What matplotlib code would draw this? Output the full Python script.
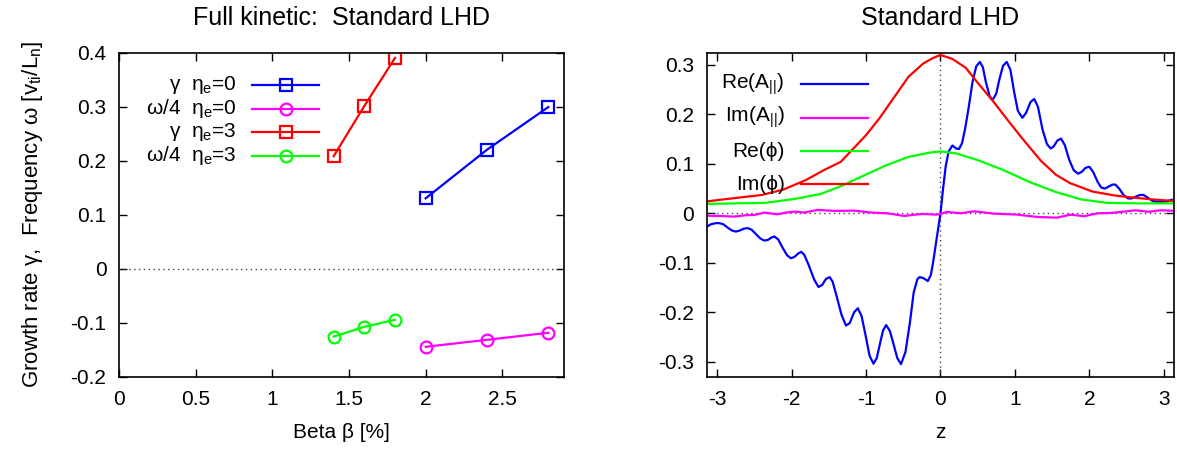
import matplotlib
matplotlib.use("Agg")
import matplotlib.pyplot as plt

plt.rcParams['font.family'] = ['Liberation Sans', 'DejaVu Sans']
plt.rcParams['font.size'] = 15
plt.rcParams['mathtext.fontset'] = 'custom'
plt.rcParams['mathtext.rm'] = 'Liberation Sans'
plt.rcParams['mathtext.it'] = 'Liberation Sans:italic'

# left panel: growth rate / frequency vs beta
beta_e0 = [2.0, 2.4, 2.8]
gamma_e0 = [0.13, 0.22, 0.299]
omega_e0 = [-0.145, -0.132, -0.119]
beta_e3 = [1.4, 1.6, 1.8]
gamma_e3 = [0.208, 0.301, 0.39]
omega_e3 = [-0.126, -0.108, -0.095]

# right panel: mode structure along z
z_re_a = [-3.14, -3.08, -3.02, -2.97, -2.92, -2.86, -2.80, -2.75, -2.70, -2.64,
          -2.59, -2.54, -2.48, -2.42, -2.37, -2.32, -2.27, -2.23, -2.18, -2.12,
          -2.06, -2.01, -1.96, -1.91, -1.87, -1.83, -1.77, -1.70, -1.64, -1.59,
          -1.54, -1.49, -1.45, -1.40, -1.33, -1.27, -1.22, -1.16, -1.11, -1.06,
          -1.005, -0.953, -0.90, -0.857, -0.815, -0.772, -0.73, -0.68, -0.63, -0.58,
          -0.53, -0.47, -0.41, -0.36, -0.31, -0.28, -0.23, -0.17, -0.13, -0.10,
          -0.07, -0.035, 0.0, 0.035, 0.07, 0.11, 0.16, 0.21, 0.25, 0.29,
          0.33, 0.38, 0.43, 0.48, 0.53, 0.57, 0.61, 0.66, 0.70, 0.75,
          0.79, 0.84, 0.89, 0.94, 0.99, 1.04, 1.10, 1.15, 1.21, 1.26,
          1.31, 1.37, 1.43, 1.48, 1.52, 1.57, 1.62, 1.67, 1.73, 1.79,
          1.85, 1.90, 1.95, 2.00, 2.05, 2.11, 2.16, 2.21, 2.26, 2.31,
          2.35, 2.40, 2.46, 2.52, 2.57, 2.63, 2.68, 2.73, 2.79, 2.85,
          2.92, 2.98, 3.04, 3.10, 3.14]
re_a = [-0.027, -0.022, -0.020, -0.020, -0.022, -0.029, -0.035, -0.037, -0.035, -0.031,
        -0.030, -0.033, -0.042, -0.051, -0.055, -0.054, -0.049, -0.047, -0.053, -0.070,
        -0.085, -0.091, -0.088, -0.081, -0.078, -0.084, -0.105, -0.133, -0.149, -0.145,
        -0.133, -0.129, -0.138, -0.165, -0.205, -0.227, -0.222, -0.200, -0.192, -0.208,
        -0.248, -0.288, -0.304, -0.293, -0.265, -0.237, -0.226, -0.238, -0.265, -0.293,
        -0.305, -0.280, -0.220, -0.160, -0.133, -0.129, -0.131, -0.137, -0.125, -0.100,
        -0.070, -0.035, 0.0, 0.050, 0.095, 0.125, 0.137, 0.131, 0.130, 0.142,
        0.170, 0.215, 0.265, 0.297, 0.306, 0.295, 0.265, 0.237, 0.229, 0.242,
        0.270, 0.298, 0.306, 0.290, 0.245, 0.207, 0.193, 0.203, 0.225, 0.231,
        0.215, 0.170, 0.140, 0.131, 0.135, 0.147, 0.151, 0.138, 0.108, 0.087,
        0.080, 0.084, 0.092, 0.094, 0.084, 0.064, 0.052, 0.050, 0.054, 0.058,
        0.058, 0.050, 0.037, 0.030, 0.030, 0.034, 0.037, 0.037, 0.031, 0.025,
        0.023, 0.023, 0.024, 0.027, 0.028]

z_im_a = [-3.14, -2.95, -2.77, -2.62, -2.50, -2.37, -2.19, -2.05, -1.96, -1.83,
          -1.65, -1.43, -1.16, -0.93, -0.71, -0.49, -0.26, -0.04, 0.09, 0.27,
          0.45, 0.72, 1.03, 1.30, 1.57, 1.75, 1.93, 2.11, 2.29, 2.47,
          2.62, 2.80, 2.95, 3.14]
im_a = [-0.005, -0.0055, -0.0068, -0.004, -0.0034, 0.0014, -0.002, 0.002, 0.0034, 0.0014,
        0.0068, 0.0048, 0.0054, 0.0014, 0.0, -0.0054, -0.0014, -0.0027, 0.0027, 0.0,
        0.004, -0.0007, -0.0027, -0.0075, -0.0088, -0.0027, -0.006, 0.0, 0.0007, 0.0034,
        0.006, 0.003, 0.006, 0.005]

z_re_phi = [-3.14, -2.75, -2.36, -1.96, -1.61, -1.32, -1.02, -0.73, -0.43, -0.13,
            0.0, 0.21, 0.51, 0.85, 1.20, 1.55, 1.89, 2.24, 2.63, 3.14]
re_phi = [0.019, 0.020, 0.021, 0.029, 0.039, 0.056, 0.077, 0.097, 0.114, 0.123,
          0.125, 0.121, 0.107, 0.087, 0.063, 0.043, 0.028, 0.021, 0.020, 0.020]

z_im_phi = [-3.14, -2.75, -2.40, -2.11, -1.81, -1.57, -1.34, -1.17, -1.00, -0.82,
            -0.63, -0.43, -0.23, -0.10, 0.0, 0.16, 0.34, 0.51, 0.71, 0.90, 1.10,
            1.35, 1.55, 1.74, 2.04, 2.34, 2.63, 2.93, 3.14]
im_phi = [0.024, 0.031, 0.037, 0.048, 0.067, 0.087, 0.104, 0.131, 0.158, 0.192,
          0.233, 0.276, 0.303, 0.314, 0.320, 0.312, 0.294, 0.262, 0.226, 0.189, 0.151,
          0.106, 0.078, 0.061, 0.044, 0.036, 0.031, 0.027, 0.025]

BLUE, MAGENTA, RED, GREEN = '#0000ff', '#ff00ff', '#ff0000', '#00ff00'


def key(ax, y, label, color, marker, x0, x1, xt):
    # gnuplot-style key: right-aligned label, sample line to its right
    ax.plot([x0, x1], [y, y], color=color, lw=1.6, transform=ax.transAxes, clip_on=False)
    if marker:
        ax.plot([(x0 + x1) / 2], [y], marker=marker, ms=8.5, mfc='none', mec=color,
                mew=1.6, transform=ax.transAxes, clip_on=False)
    ax.text(xt, y, label, ha='right', va='center', transform=ax.transAxes)


def style(ax):
    ax.tick_params(direction='in', top=True, right=True, length=6, width=1)
    ax.tick_params(axis='x', pad=10)
    ax.tick_params(axis='y', pad=9)
    for s in ax.spines.values():
        s.set_linewidth(1.2)


fig = plt.figure(figsize=(11.77, 4.5), dpi=100)
ax1 = fig.add_axes([0.1011, 0.1633, 0.3778, 0.72])
ax2 = fig.add_axes([0.6004, 0.1633, 0.3973, 0.72])

# left panel
ax1.axhline(0, color='#444444', lw=1, ls=(0, (1, 2.5)))
ax1.plot(beta_e0, gamma_e0, color=BLUE, lw=1.6, marker='s', ms=8.5, mfc='none', mew=1.6)
ax1.plot(beta_e0, omega_e0, color=MAGENTA, lw=1.6, marker='o', ms=8.5, mfc='none', mew=1.6)
ax1.plot(beta_e3, gamma_e3, color=RED, lw=1.6, marker='s', ms=8.5, mfc='none', mew=1.6)
ax1.plot(beta_e3, omega_e3, color=GREEN, lw=1.6, marker='o', ms=8.5, mfc='none', mew=1.6)
ax1.set_xlim(0, 2.9)
ax1.set_ylim(-0.2, 0.4)
ax1.set_xticks([0, 0.5, 1, 1.5, 2, 2.5])
ax1.set_xticklabels(['0', '0.5', '1', '1.5', '2', '2.5'])
ax1.set_yticks([-0.2, -0.1, 0, 0.1, 0.2, 0.3, 0.4])
ax1.set_yticklabels(['-0.2', '-0.1', '0', '0.1', '0.2', '0.3', '0.4'])
ax1.set_xlabel('Beta β [%]', labelpad=10)
ax1.set_ylabel(r'Growth rate γ,  Frequency ω [v$_\mathrm{ti}$/L$_\mathrm{n}$]',
               fontsize=16, labelpad=18)
ax1.set_title('Full kinetic:  Standard LHD', pad=20)
style(ax1)

left_keys = [(r'γ  η$_\mathrm{e}$=0', BLUE, 's'),
             (r'ω/4  η$_\mathrm{e}$=0', MAGENTA, 'o'),
             (r'γ  η$_\mathrm{e}$=3', RED, 's'),
             (r'ω/4  η$_\mathrm{e}$=3', GREEN, 'o')]
for i, (lab, c, m) in enumerate(left_keys):
    key(ax1, 0.9 - 0.073 * i, lab, c, m, 0.299, 0.45, 0.265)

# right panel
ax2.axhline(0, color='#444444', lw=1, ls=(0, (1, 2.5)))
ax2.axvline(0, color='#444444', lw=1, ls=(0, (1, 2.5)))
ax2.plot(z_re_a, re_a, color=BLUE, lw=1.6)
ax2.plot(z_im_a, im_a, color=MAGENTA, lw=1.6)
ax2.plot(z_re_phi, re_phi, color=GREEN, lw=1.6)
ax2.plot(z_im_phi, im_phi, color=RED, lw=1.6)
ax2.set_xlim(-3.1416, 3.1416)
ax2.set_ylim(-0.33, 0.325)
ax2.set_xticks([-3, -2, -1, 0, 1, 2, 3])
ax2.set_xticklabels(['-3', '-2', '-1', '0', '1', '2', '3'])
ax2.set_yticks([-0.3, -0.2, -0.1, 0, 0.1, 0.2, 0.3])
ax2.set_yticklabels(['-0.3', '-0.2', '-0.1', '0', '0.1', '0.2', '0.3'])
ax2.set_xlabel('z', labelpad=10)
ax2.set_title('Standard LHD', pad=20)
style(ax2)

right_keys = [(r'Re(A$_\mathrm{||}$)', BLUE),
              (r'Im(A$_\mathrm{||}$)', MAGENTA),
              ('Re(ϕ)', GREEN),
              ('Im(ϕ)', RED)]
for i, (lab, c) in enumerate(right_keys):
    key(ax2, 0.902 - 0.103 * i, lab, c, None, 0.201, 0.344, 0.167)

fig.savefig('out.png', dpi=100)
